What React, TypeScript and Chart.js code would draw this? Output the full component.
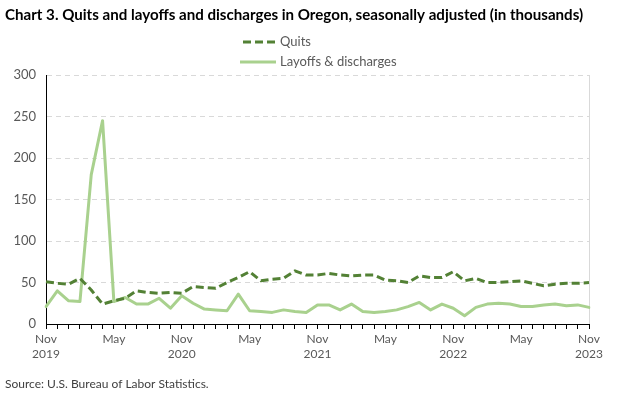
import React, { useEffect, useRef } from 'react';
import { Chart, registerables } from 'chart.js';

Chart.register(...registerables);

const monthLabels = [
  'Nov 2019', 'Dec 2019', 'Jan 2020', 'Feb 2020', 'Mar 2020', 'Apr 2020', 'May 2020', 'Jun 2020', 'Jul 2020', 'Aug 2020', 'Sep 2020', 'Oct 2020',
  'Nov 2020', 'Dec 2020', 'Jan 2021', 'Feb 2021', 'Mar 2021', 'Apr 2021', 'May 2021', 'Jun 2021', 'Jul 2021', 'Aug 2021', 'Sep 2021', 'Oct 2021',
  'Nov 2021', 'Dec 2021', 'Jan 2022', 'Feb 2022', 'Mar 2022', 'Apr 2022', 'May 2022', 'Jun 2022', 'Jul 2022', 'Aug 2022', 'Sep 2022', 'Oct 2022',
  'Nov 2022', 'Dec 2022', 'Jan 2023', 'Feb 2023', 'Mar 2023', 'Apr 2023', 'May 2023', 'Jun 2023', 'Jul 2023', 'Aug 2023', 'Sep 2023', 'Oct 2023',
  'Nov 2023',
];

const quits = [
  51, 49, 48, 55, 41, 24, 28, 31, 40, 38, 37, 38,
  37, 45, 44, 43, 50, 56, 63, 52, 54, 55, 64, 59,
  59, 61, 59, 58, 59, 59, 53, 52, 50, 58, 56, 56,
  63, 52, 55, 50, 50, 51, 52, 49, 46, 48, 49, 49,
  50,
];

const layoffs = [
  21, 40, 28, 27, 180, 245, 27, 32, 24, 24, 31, 19,
  34, 25, 18, 17, 16, 36, 16, 15, 14, 17, 15, 14,
  23, 23, 17, 24, 15, 14, 15, 17, 21, 26, 17, 24,
  19, 10, 20, 24, 25, 24, 21, 21, 23, 24, 22, 23,
  20,
];

const yTicks = { min: 0, max: 300, step: 50 };

const TITLE = 'Chart 3. Quits and layoffs and discharges in Oregon, seasonally adjusted (in thousands)';
const SOURCE = 'Source: U.S. Bureau of Labor Statistics.';
const QUITS_COLOR = '#538135';
const LAYOFF_COLOR = '#a9d18e';
const FONT = 'Lato, "Open Sans", sans-serif';

const overlayPlugin = {
  id: 'overlay',
  beforeDatasetsDraw(chart: any) {
    const { ctx, chartArea } = chart;
    ctx.save();
    ctx.strokeStyle = '#d9d9d9';
    ctx.lineWidth = 1;
    ctx.beginPath();
    ctx.moveTo(Math.round(chartArea.right) + 0.5, chartArea.top);
    ctx.lineTo(Math.round(chartArea.right) + 0.5, chartArea.bottom);
    ctx.stroke();
    ctx.restore();
  },
  afterDraw(chart: any) {
    const { ctx } = chart;
    ctx.save();
    ctx.fillStyle = '#000';
    ctx.textBaseline = 'middle';
    ctx.textAlign = 'left';
    ctx.font = `bold 14px ${FONT}`;
    const w = ctx.measureText(TITLE).width;
    const size = Math.min(16, 14 * (578 / w));
    ctx.font = `bold ${size.toFixed(2)}px ${FONT}`;
    ctx.fillText(TITLE, 5, 15);

    ctx.lineWidth = 3;
    ctx.strokeStyle = QUITS_COLOR;
    ctx.setLineDash([8, 4]);
    ctx.beginPath();
    ctx.moveTo(243, 42);
    ctx.lineTo(276, 42);
    ctx.stroke();
    ctx.setLineDash([]);
    ctx.strokeStyle = LAYOFF_COLOR;
    ctx.beginPath();
    ctx.moveTo(240, 62);
    ctx.lineTo(276, 62);
    ctx.stroke();
    ctx.fillStyle = '#595959';
    ctx.font = `13px ${FONT}`;
    ctx.fillText('Quits', 280, 42);
    ctx.fillText('Layoffs & discharges', 280, 62);

    ctx.fillStyle = '#404040';
    ctx.font = `12px ${FONT}`;
    ctx.fillText(SOURCE, 5, 384);
    ctx.restore();
  },
};

export default function App() {
  const canvasRef = useRef<HTMLCanvasElement>(null);

  useEffect(() => {
    if (!canvasRef.current) return;
    const chart = new Chart(canvasRef.current, {
      type: 'line',
      data: {
        labels: monthLabels,
        datasets: [
          {
            label: 'Quits',
            data: quits,
            borderColor: QUITS_COLOR,
            backgroundColor: QUITS_COLOR,
            borderWidth: 3,
            borderDash: [8, 4],
            borderJoinStyle: 'round',
            pointRadius: 0,
            tension: 0,
          },
          {
            label: 'Layoffs & discharges',
            data: layoffs,
            borderColor: LAYOFF_COLOR,
            backgroundColor: LAYOFF_COLOR,
            borderWidth: 3,
            borderJoinStyle: 'round',
            borderCapStyle: 'round',
            pointRadius: 0,
            tension: 0,
          },
        ],
      },
      options: {
        responsive: false,
        animation: false,
        devicePixelRatio: 1,
        layout: { padding: { left: 0, top: 75, right: 35, bottom: 30 } },
        plugins: {
          legend: { display: false },
          title: { display: false },
          tooltip: { enabled: false },
        },
        scales: {
          x: {
            type: 'category',
            offset: false,
            afterFit: (scale: any) => { scale.height = 40; },
            grid: {
              display: true,
              drawOnChartArea: false,
              drawTicks: true,
              tickLength: 5,
              color: '#000',
              lineWidth: 1,
            },
            border: { display: true, color: '#000', width: 1 },
            ticks: {
              autoSkip: false,
              maxRotation: 0,
              minRotation: 0,
              padding: 3,
              color: '#595959',
              font: { family: FONT, size: 12, lineHeight: 1.25 },
              callback: (_v: any, i: number) => {
                if (i % 6 !== 0) return '';
                const [m, y] = monthLabels[i].split(' ');
                return m === 'Nov' ? [m, y] : [m, ''];
              },
            },
          },
          y: {
            min: yTicks.min,
            max: yTicks.max,
            afterFit: (scale: any) => { scale.width = 46; },
            grid: {
              color: '#d9d9d9',
              drawTicks: false,
              lineWidth: 1,
            },
            border: { display: true, color: '#000', width: 1, dash: [5, 4] },
            ticks: {
              stepSize: yTicks.step,
              padding: 10,
              color: '#595959',
              font: { family: FONT, size: 13 },
            },
          },
        },
      },
      plugins: [overlayPlugin],
    });
    return () => chart.destroy();
  }, []);

  return (
    <div style={{ position: 'absolute', left: 0, top: 0, width: 624, height: 394, background: '#fff' }}>
      <canvas ref={canvasRef} width={624} height={394} />
    </div>
  );
}
